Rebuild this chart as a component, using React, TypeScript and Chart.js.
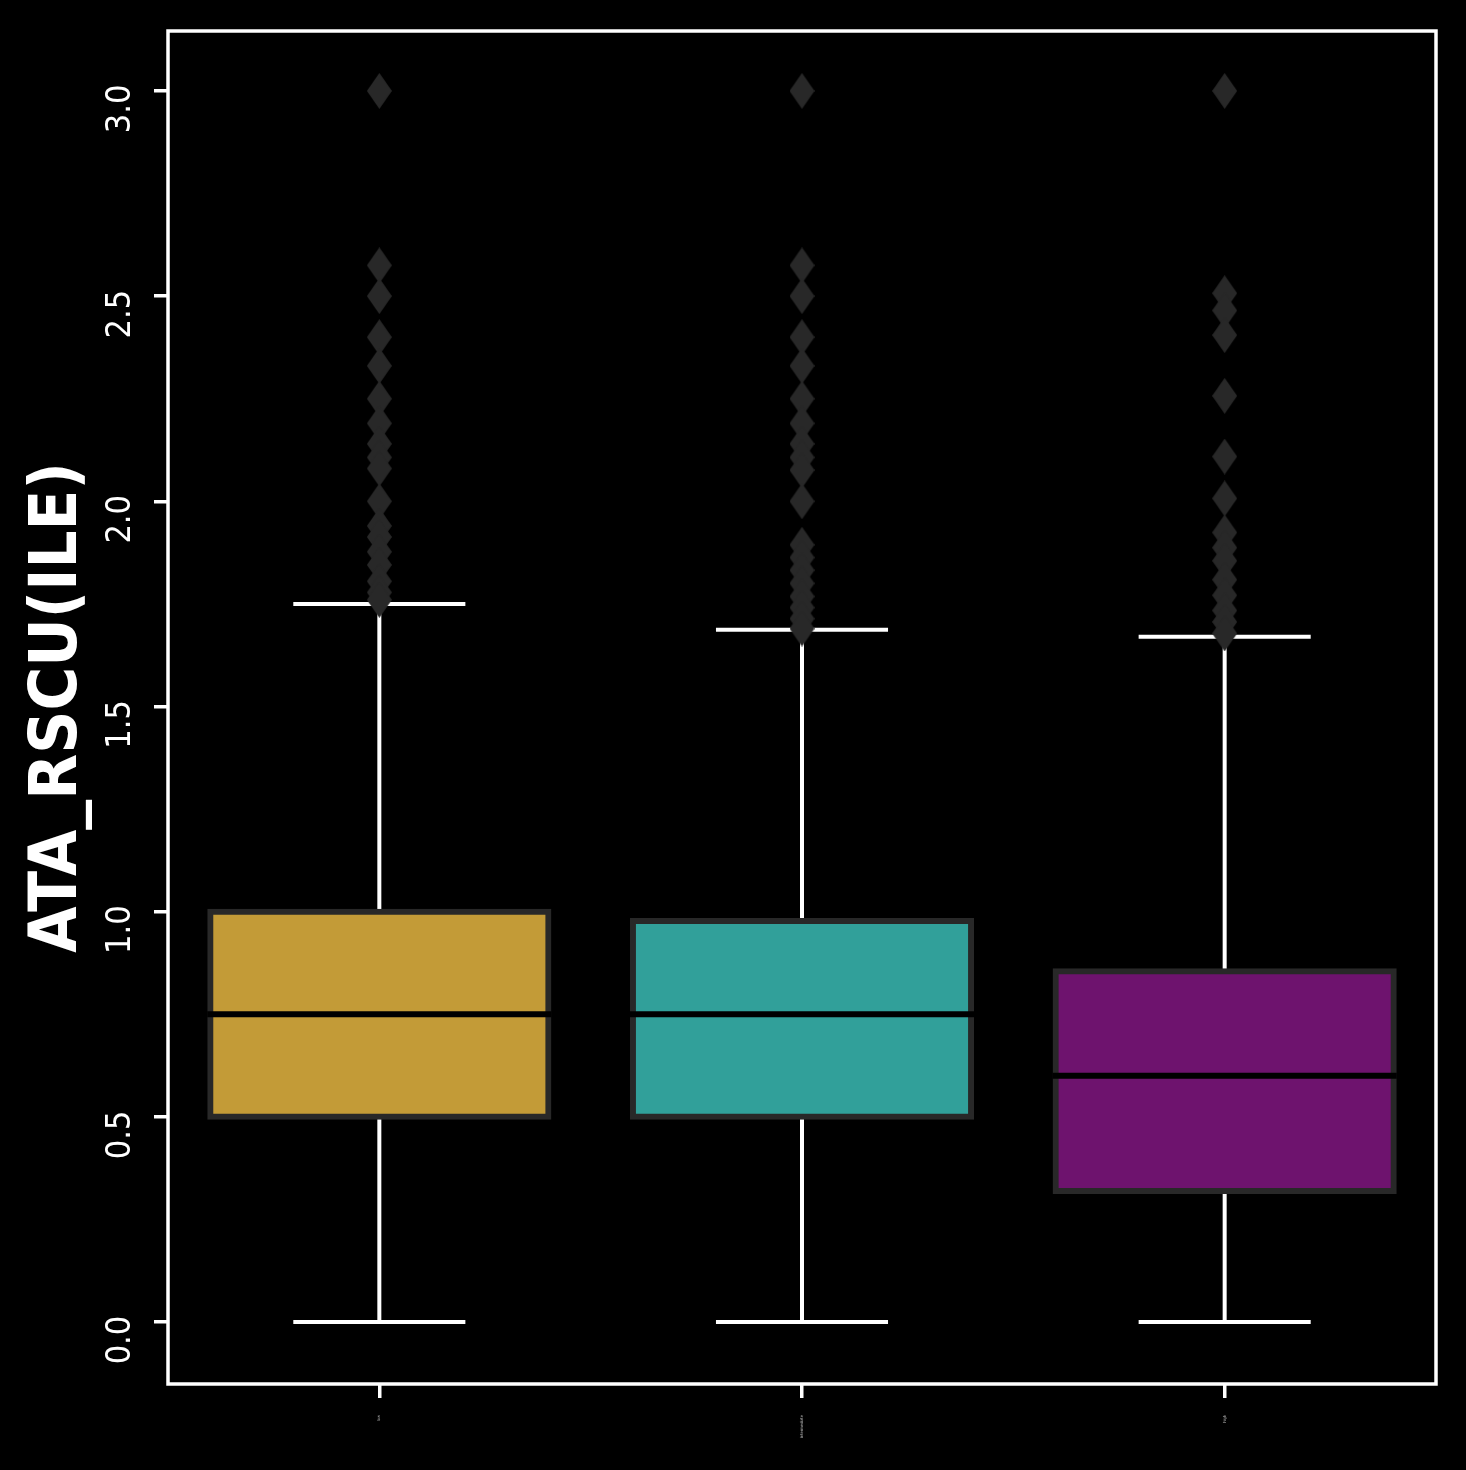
import React, { useEffect, useRef } from 'react';
import { Chart, registerables } from 'chart.js';

Chart.register(...registerables);

const categories = ['low', 'intermediate', 'high'];
const q1 = [0.5, 0.5, 0.319];
const q3 = [1.0, 0.977, 0.855];
const medians = [0.75, 0.75, 0.6];
const whiskerLow = [0, 0, 0];
const whiskerHigh = [1.75, 1.687, 1.67];
const outliersLow = [3.0, 2.575, 2.5, 2.4, 2.33, 2.25, 2.19, 2.14, 2.107, 2.08, 2.0, 1.94, 1.913, 1.877, 1.845, 1.805, 1.778, 1.76];
const outliersIntermediate = [3.0, 2.575, 2.5, 2.4, 2.33, 2.25, 2.19, 2.14, 2.107, 2.076, 2.0, 1.894, 1.863, 1.832, 1.8, 1.768, 1.741, 1.714, 1.69];
const outliersHigh = [3.0, 2.507, 2.465, 2.405, 2.257, 2.109, 2.007, 1.924, 1.887, 1.855, 1.809, 1.771, 1.734, 1.706, 1.678];
const yTicks = [0, 0.5, 1.0, 1.5, 2.0, 2.5, 3.0];
const boxColors = ['#c39b37', '#31a09a', '#6e136e'];
const yMin = -0.151;
const yMax = 3.146;

const FONT = "'DejaVu Sans Condensed', 'DejaVu Sans', sans-serif";

function makeDiamond(): HTMLCanvasElement {
  const c = document.createElement('canvas');
  const w = 25, h = 36;
  c.width = w; c.height = h;
  const g = c.getContext('2d')!;
  g.fillStyle = '#282828';
  g.beginPath();
  g.moveTo(w / 2, 0);
  g.lineTo(w, h / 2);
  g.lineTo(w / 2, h);
  g.lineTo(0, h / 2);
  g.closePath();
  g.fill();
  return c;
}

const boxPartsPlugin = {
  id: 'boxParts',
  beforeDatasetsDraw(chart: any) {
    const ctx = chart.ctx;
    const y = chart.scales.y;
    const meta = chart.getDatasetMeta(0);
    ctx.save();
    ctx.strokeStyle = '#ffffff';
    ctx.lineWidth = 4;
    meta.data.forEach((bar: any, i: number) => {
      const x = bar.x;
      const half = (bar.width + 6) / 4;
      const segs = [[q3[i], whiskerHigh[i]], [q1[i], whiskerLow[i]]];
      segs.forEach(([a, b]) => {
        ctx.beginPath();
        ctx.moveTo(x, y.getPixelForValue(a));
        ctx.lineTo(x, y.getPixelForValue(b));
        ctx.stroke();
        ctx.beginPath();
        ctx.moveTo(x - half, y.getPixelForValue(b));
        ctx.lineTo(x + half, y.getPixelForValue(b));
        ctx.stroke();
      });
    });
    ctx.restore();
  },
  afterDatasetsDraw(chart: any) {
    const ctx = chart.ctx;
    const y = chart.scales.y;
    const meta = chart.getDatasetMeta(0);
    ctx.save();
    ctx.strokeStyle = '#000000';
    ctx.lineWidth = 6;
    meta.data.forEach((bar: any, i: number) => {
      const half = (bar.width + 6) / 2;
      const py = y.getPixelForValue(medians[i]);
      ctx.beginPath();
      ctx.moveTo(bar.x - half, py);
      ctx.lineTo(bar.x + half, py);
      ctx.stroke();
    });
    ctx.restore();
  },
  afterDraw(chart: any) {
    const ctx = chart.ctx;
    const a = chart.chartArea;
    ctx.save();
    ctx.strokeStyle = '#ffffff';
    ctx.lineWidth = 3.5;
    ctx.strokeRect(a.left, a.top, a.right - a.left, a.bottom - a.top);
    ctx.restore();
  },
};

export default function App() {
  const ref = useRef<HTMLCanvasElement | null>(null);

  useEffect(() => {
    document.body.style.margin = '0';
    document.body.style.background = '#000000';
    const diamond = makeDiamond();
    const outlierSets = [outliersLow, outliersIntermediate, outliersHigh];
    const outlierData: any[] = [];
    outlierSets.forEach((arr, i) => arr.forEach((v) => outlierData.push({ x: categories[i], y: v })));

    const chart = new Chart(ref.current!, {
      type: 'bar',
      data: {
        labels: categories,
        datasets: [
          {
            type: 'bar',
            data: categories.map((_, i) => [q1[i], q3[i]]) as any,
            backgroundColor: boxColors,
            borderColor: '#282828',
            borderWidth: 6,
            borderSkipped: false,
            inflateAmount: 3,
            categoryPercentage: 0.8,
            barPercentage: 1,
          } as any,
          {
            type: 'scatter',
            data: outlierData,
            pointStyle: diamond,
            pointRadius: 12,
            showLine: false,
          } as any,
        ],
      },
      plugins: [boxPartsPlugin],
      options: {
        responsive: false,
        animation: false,
        devicePixelRatio: 1,
        layout: { padding: { left: 0, right: 30, top: 31, bottom: 0 } },
        plugins: { legend: { display: false }, tooltip: { enabled: false } },
        scales: {
          x: {
            type: 'category',
            offset: true,
            afterFit: (s: any) => { s.height = 86; },
            grid: { display: true, drawOnChartArea: false, offset: false, color: '#ffffff', lineWidth: 3.5, tickLength: 14, tickWidth: 3.5 },
            border: { display: false },
            ticks: { color: '#bbbbbb', font: { family: FONT, size: 4 }, minRotation: 90, maxRotation: 90, padding: 17 },
          },
          y: {
            type: 'linear',
            min: yMin,
            max: yMax,
            afterFit: (s: any) => { s.width = 168; },
            afterBuildTicks: (s: any) => { s.ticks = yTicks.map((v) => ({ value: v })); },
            grid: { display: true, drawOnChartArea: false, color: '#ffffff', lineWidth: 3.5, tickLength: 14, tickWidth: 3.5 },
            border: { display: false },
            ticks: {
              color: '#ffffff',
              font: { family: FONT, size: 34 },
              minRotation: 90,
              maxRotation: 90,
              crossAlign: 'center',
              padding: 9,
              labelOffset: 18,
              callback: (v: any) => Number(v).toFixed(1),
            },
            title: {
              display: true,
              text: 'ATA_RSCU(ILE)',
              color: '#ffffff',
              font: { family: FONT, size: 66.5, weight: 'bold' },
              padding: { top: 19, bottom: 0 },
            },
          },
        },
      } as any,
    });
    return () => chart.destroy();
  }, []);

  return (
    <div style={{ width: 1466, height: 1470, background: '#000000' }}>
      <canvas ref={ref} width={1466} height={1470} style={{ display: 'block' }} />
    </div>
  );
}
